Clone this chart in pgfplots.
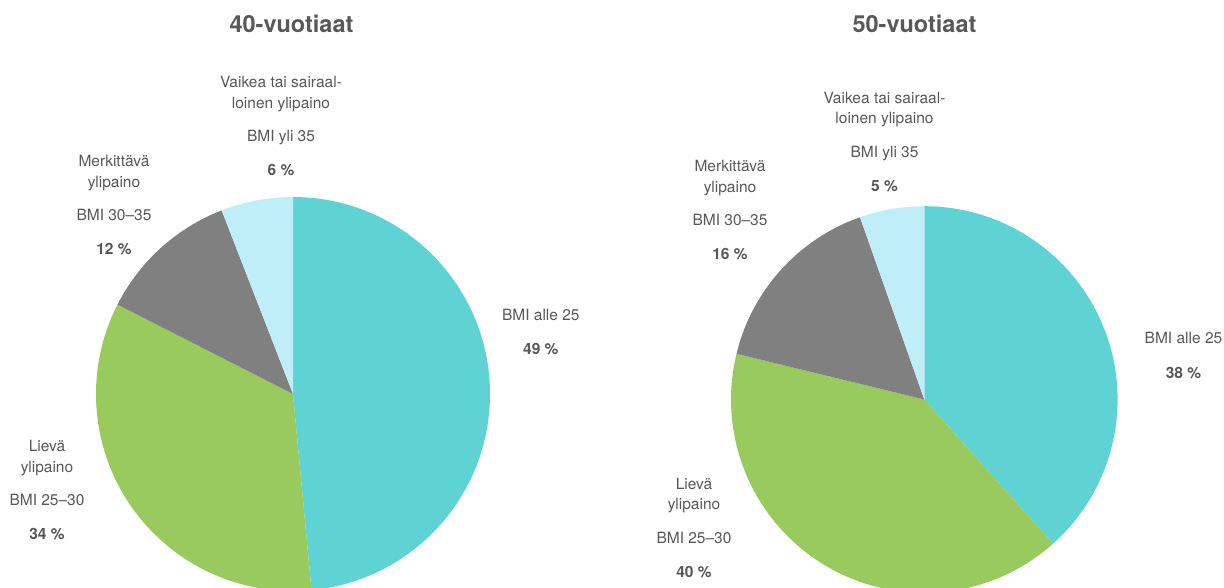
\documentclass[border=0pt]{standalone}
\usepackage{fontspec}
\setmainfont{TeX Gyre Heros}
\usepackage{pgfplots}
\usepackage{pgfplotstable}
\pgfplotsset{compat=1.18}

\definecolor{slice0}{RGB}{95,211,211}   % BMI alle 25
\definecolor{slice1}{RGB}{153,202,94}   % BMI 25-30
\definecolor{slice2}{RGB}{128,128,128}  % BMI 30-35
\definecolor{slice3}{RGB}{192,238,248}  % BMI yli 35
\definecolor{txt}{RGB}{88,88,88}

% shares in percent, clockwise from the top
\pgfplotstableread{
share
48.5
34.0
11.6
5.9
}\fourty
\pgfplotstableread{
share
38.4
40.4
15.8
5.4
}\fifty

% start/end angle of every slice -> \<prefix>from<i>, \<prefix>upto<i>
\newcommand\pieangles[2]{%
  \pgfplotstablegetrowsof{#1}%
  \pgfmathtruncatemacro\lastrow{\pgfplotsretval-1}%
  \def\acc{0}%
  \pgfplotsforeachungrouped \i in {0,...,\lastrow}{%
    \pgfplotstablegetelem{\i}{share}\of{#1}%
    \let\sh\pgfplotsretval
    \pgfmathsetmacro\angfrom{90-3.6*\acc}%
    \pgfmathsetmacro\acc{\acc+\sh}%
    \pgfmathsetmacro\angupto{90-3.6*\acc}%
    \expandafter\xdef\csname #2from\i\endcsname{\angfrom}%
    \expandafter\xdef\csname #2upto\i\endcsname{\angupto}%
  }%
}
\pieangles{\fourty}{A}
\pieangles{\fifty}{B}

\tikzset{
  lab/.style={anchor=base, inner sep=0pt, text=txt, font=\fontsize{15.5}{18}\selectfont},
  pct/.style={lab, font=\fontsize{15.5}{18}\selectfont\bfseries},
  ttl/.style={anchor=base, inner sep=0pt, text=txt, font=\fontsize{23.5}{28}\selectfont\bfseries},
}

\begin{document}
\begin{tikzpicture}
\begin{axis}[
    at={(0,0)}, anchor=south west,
    width=1224pt, height=587pt, scale only axis,
    xmin=0, xmax=1224, ymin=0, ymax=587, y dir=reverse,
    hide axis, clip=true,
]
% pies
\pgfplotsinvokeforeach{0,...,3}{%
  \edef\tmp{\noexpand\fill[slice#1] (axis cs:293,394) -- ++(\csname Afrom#1\endcsname:197pt)
    arc[start angle=\csname Afrom#1\endcsname, end angle=\csname Aupto#1\endcsname, radius=197pt] -- cycle;}\tmp
  \edef\tmp{\noexpand\fill[slice#1] (axis cs:924.3,399.5) -- ++(\csname Bfrom#1\endcsname:193.3pt)
    arc[start angle=\csname Bfrom#1\endcsname, end angle=\csname Bupto#1\endcsname, radius=193.3pt] -- cycle;}\tmp
}

% titles
\node[ttl] at (axis cs:291.5,32.5) {40-vuotiaat};
\node[ttl] at (axis cs:914.5,32.7) {50-vuotiaat};

% 40-vuotiaat labels
\node[lab] at (axis cs:281,87) {Vaikea tai sairaal-};
\node[lab] at (axis cs:281,108) {loinen ylipaino};
\node[lab] at (axis cs:281,141) {BMI yli 35};
\node[pct] at (axis cs:281,175) {6 \%};

\node[lab] at (axis cs:114,166.5) {Merkittävä};
\node[lab] at (axis cs:114,187) {ylipaino};
\node[lab] at (axis cs:114,220.5) {BMI 30–35};
\node[pct] at (axis cs:114,254.5) {12 \%};

\node[lab] at (axis cs:540.8,320.3) {BMI alle 25};
\node[pct] at (axis cs:540.8,354) {49 \%};

\node[lab] at (axis cs:47,451.5) {Lievä};
\node[lab] at (axis cs:47,472) {ylipaino};
\node[lab] at (axis cs:47,505.5) {BMI 25–30};
\node[pct] at (axis cs:47,539.5) {34 \%};

% 50-vuotiaat labels
\node[lab] at (axis cs:884.5,103.3) {Vaikea tai sairaal-};
\node[lab] at (axis cs:884.5,123.8) {loinen ylipaino};
\node[lab] at (axis cs:884.5,157.3) {BMI yli 35};
\node[pct] at (axis cs:884.5,191.3) {5 \%};

\node[lab] at (axis cs:730,171.5) {Merkittävä};
\node[lab] at (axis cs:730,192) {ylipaino};
\node[lab] at (axis cs:730,225.5) {BMI 30–35};
\node[pct] at (axis cs:730,259.5) {16 \%};

\node[lab] at (axis cs:1183.5,343.3) {BMI alle 25};
\node[pct] at (axis cs:1183.5,378) {38 \%};

\node[lab] at (axis cs:694,489) {Lievä};
\node[lab] at (axis cs:694,509.5) {ylipaino};
\node[lab] at (axis cs:694,543) {BMI 25–30};
\node[pct] at (axis cs:694,577) {40 \%};
\end{axis}
\pgfresetboundingbox
\useasboundingbox (0,0) rectangle (1224pt,587pt);
\end{tikzpicture}
\end{document}
